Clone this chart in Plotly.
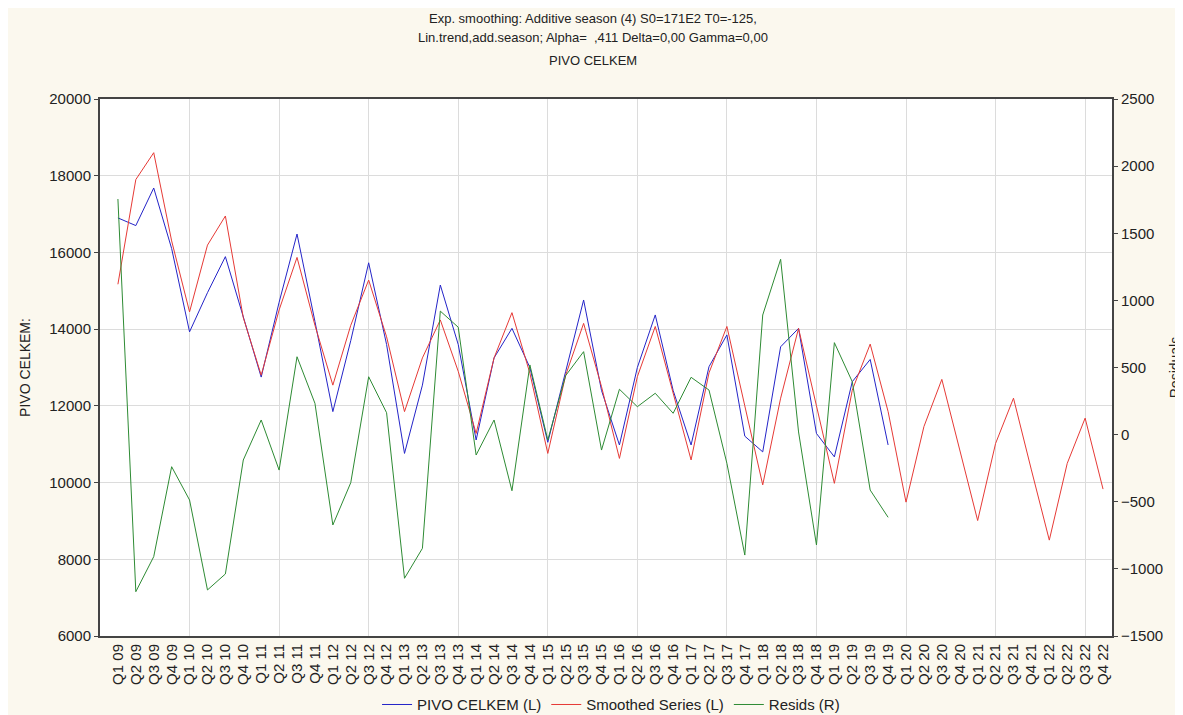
import plotly.graph_objects as go

# quarters Q1 09 .. Q4 22
quarters = [f"Q{q} {y:02d}" for y in range(9, 23) for q in range(1, 5)]

pivo_celkem = [16900, 16700, 17680, 16100, 13930, 14950, 15890, 14300,
               12750, 14700, 16480, 14200, 11850, 13700, 15730, 13600,
               10760, 12540, 15150, 13600, 11110, 13250, 14020, 13000,
               11050, 12900, 14760, 12400, 10980, 13000, 14370, 12400,
               10980, 13020, 13850, 11210, 10800, 13540, 14020, 11280,
               10670, 12630, 13210, 10980]

smoothed = [15170, 17900, 18600, 16300, 14450, 16190, 16950, 14300,
            12800, 14500, 15870, 14100, 12540, 14100, 15280, 13800,
            11850, 13250, 14240, 12900, 11280, 13250, 14430, 12850,
            10760, 12800, 14150, 12500, 10630, 12760, 14070, 12350,
            10590, 12860, 14070, 12000, 9940, 12200, 14020, 12000,
            9980, 12410, 13610, 11850,
            9490, 11460, 12690, 10850, 9010, 11020, 12200, 10330,
            8500, 10500, 11680, 9830]

resids = [1755, -1170, -909, -239, -487, -1157, -1038, -189,
          109, -264, 580, 233, -673, -358, 431, 163,
          -1070, -847, 920, 800, -152, 109, -418, 519,
          -40, 440, 618, -115, 338, 208, 308, 159,
          427, 332, -214, -897, 891, 1306, 20, -822,
          685, 394, -413, -616]

title_lines = ["Exp. smoothing: Additive season (4) S0=171E2 T0=-125,",
               "Lin.trend,add.season; Alpha=  ,411 Delta=0,00 Gamma=0,00",
               "PIVO CELKEM"]

x_all = list(range(len(quarters)))
font = "Liberation Sans, Arial, sans-serif"
txt = "#222222"

fig = go.Figure()
fig.add_trace(go.Scatter(x=x_all[:len(pivo_celkem)], y=pivo_celkem, mode="lines",
                         name="PIVO CELKEM (L)", line=dict(color="#2424C8", width=1)))
fig.add_trace(go.Scatter(x=x_all[:len(smoothed)], y=smoothed, mode="lines",
                         name="Smoothed Series (L)", line=dict(color="#E63A36", width=1)))
fig.add_trace(go.Scatter(x=x_all[:len(resids)], y=resids, mode="lines", yaxis="y2",
                         name="Resids (R)", line=dict(color="#2E8B34", width=1)))

# title lines placed one by one (plot area spans 537px)
for i, line in enumerate(title_lines):
    py = [18, 38, 60][i]
    fig.add_annotation(text=line, xref="paper", yref="paper", x=0.487,
                       y=(636 - py) / 537, xanchor="center", yanchor="middle",
                       showarrow=False, font=dict(size=13, color=txt))

# page body keeps an 8px margin, so the figure is 8px smaller than the window
fig.update_layout(
    width=1175, height=707,
    paper_bgcolor="#FBF8EE", plot_bgcolor="white",
    margin=dict(l=92, r=71, t=91, b=79, autoexpand=False),
    font=dict(family=font, size=13, color=txt),
    xaxis=dict(range=[-1, 55.5], tickmode="array", tickvals=x_all, ticktext=quarters,
               tickangle=-90, tickfont=dict(size=15, color=txt),
               showgrid=False, zeroline=False, automargin=False,
               showline=True, linecolor="#444", linewidth=2, mirror=True,
               ticks="",
               minor=dict(tickmode="array", tickvals=[4, 9, 14, 19, 24, 29, 34, 39, 44, 49, 54],
                          showgrid=True, gridcolor="#DCDCDC", gridwidth=1, ticks="")),
    yaxis=dict(range=[6000, 20000], dtick=2000, tickformat="d",
               showgrid=True, gridcolor="#DCDCDC", automargin=False,
               zeroline=False, showline=True, linecolor="#444", linewidth=2,
               ticks="outside", ticklen=4, tickcolor="#444",
               tickfont=dict(size=15, color=txt),
               title=dict(text="PIVO CELKEM:", font=dict(size=14, color=txt), standoff=15)),
    yaxis2=dict(range=[-1500, 2500], dtick=500, tickformat="d", overlaying="y", side="right",
                showgrid=False, zeroline=False, showline=True, linecolor="#444", linewidth=2,
                ticks="outside", ticklen=4, tickcolor="#444", automargin=False,
                tickfont=dict(size=15, color=txt),
                title=dict(text="Residuals", font=dict(size=14, color=txt), standoff=12)),
    legend=dict(orientation="h", x=0.505, xanchor="center", y=-0.128, yanchor="middle",
                font=dict(size=15, color=txt), bgcolor="rgba(0,0,0,0)", itemwidth=30),
)

fig.write_html("out.html")
